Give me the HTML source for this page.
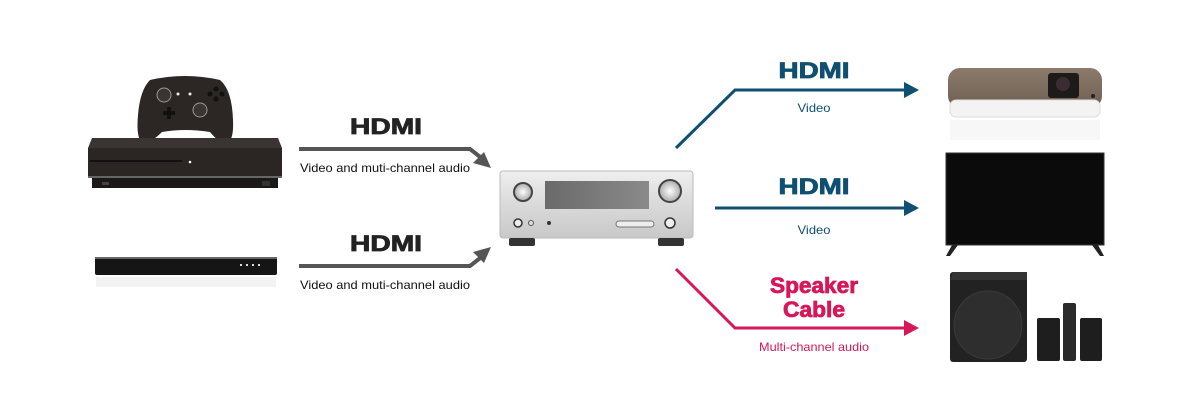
<!DOCTYPE html>
<html><head><meta charset="utf-8"><style>
html,body{margin:0;padding:0;background:#fff;}
svg{display:block;}
.h{font-family:"Liberation Sans",sans-serif;font-weight:bold;font-size:22px;stroke-width:0.8px;}
.s{font-family:"Liberation Sans",sans-serif;font-size:12px;}
</style></head><body>
<svg width="1201" height="400" viewBox="0 0 1201 400" xmlns="http://www.w3.org/2000/svg">
<defs>
<linearGradient id="silver" x1="0" y1="0" x2="0" y2="1"><stop offset="0" stop-color="#efefef"/><stop offset="0.5" stop-color="#dadada"/><stop offset="1" stop-color="#c8c8c8"/></linearGradient>
<linearGradient id="disp" x1="0" y1="0" x2="1" y2="0"><stop offset="0" stop-color="#6a6a6a"/><stop offset="1" stop-color="#8a8a8a"/></linearGradient>
<linearGradient id="brown" x1="0" y1="0" x2="0" y2="1"><stop offset="0" stop-color="#8c7b6c"/><stop offset="1" stop-color="#6e5f52"/></linearGradient>
<radialGradient id="knob"><stop offset="0" stop-color="#fff"/><stop offset="1" stop-color="#aaa"/></radialGradient>
</defs>

<path d="M150 80 Q185 72 220 80 Q232 90 233 120 Q234 140 227 143 Q220 144 210 132 Q185 128 162 132 Q150 144 142 142 Q136 138 138 115 Q140 90 150 80Z" fill="#2c2624"/>
<circle cx="164" cy="95" r="7" fill="#3a3432" stroke="#999" stroke-width="1"/>
<circle cx="200" cy="110" r="7" fill="#3a3432" stroke="#999" stroke-width="1"/>
<circle cx="178" cy="94" r="1.5" fill="#eee"/><circle cx="190" cy="94" r="1.5" fill="#eee"/>
<circle cx="210" cy="94" r="2.5" fill="#111"/><circle cx="216" cy="89" r="2.5" fill="#111"/><circle cx="222" cy="94" r="2.5" fill="#111"/><circle cx="216" cy="99" r="2.5" fill="#111"/>
<rect x="167" y="107" width="4" height="12" fill="#111"/><rect x="163" y="111" width="12" height="4" fill="#111"/>
<polygon points="92,138 278,138 282,148 88,148" fill="#3a3432"/>
<rect x="88" y="148" width="194" height="30" fill="#2b2523"/>
<rect x="90" y="160" width="92" height="2" fill="#111"/>
<circle cx="190" cy="162" r="1.3" fill="#fff"/>
<rect x="88" y="176" width="194" height="2" fill="#666"/>
<rect x="92" y="178" width="186" height="10" fill="#1c1817"/>
<rect x="102" y="182" width="7" height="3" fill="#444"/>
<rect x="262" y="181" width="8" height="5" fill="#333"/>
<rect x="95" y="257" width="182" height="18" rx="2" fill="#151515"/>
<rect x="95" y="257" width="182" height="2" fill="#666"/>
<rect x="240" y="264" width="2" height="2" fill="#ddd"/><rect x="246" y="264" width="2" height="2" fill="#ddd"/><rect x="252" y="264" width="2" height="2" fill="#ddd"/><rect x="258" y="264" width="2" height="2" fill="#ddd"/>
<rect x="96" y="277" width="180" height="10" fill="#eee" opacity="0.7"/>

<polyline points="299,149 470,149 484,160" fill="none" stroke="#555" stroke-width="4"/>
<polygon points="491,168 473,163 484,152" fill="#555"/>
<polyline points="299,266 470,266 484,255" fill="none" stroke="#555" stroke-width="4"/>
<polygon points="491,247 484,263 473,252" fill="#555"/>
<text x="386" y="134" text-anchor="middle" class="h" fill="#222" stroke="#222" textLength="72" lengthAdjust="spacingAndGlyphs">HDMI</text>
<text x="385" y="172" text-anchor="middle" class="s" fill="#111" textLength="170" lengthAdjust="spacingAndGlyphs">Video and muti-channel audio</text>
<text x="386" y="251" text-anchor="middle" class="h" fill="#222" stroke="#222" textLength="72" lengthAdjust="spacingAndGlyphs">HDMI</text>
<text x="385" y="289" text-anchor="middle" class="s" fill="#111" textLength="170" lengthAdjust="spacingAndGlyphs">Video and muti-channel audio</text>

<rect x="500" y="171" width="193" height="67" rx="3" fill="url(#silver)" stroke="#bbb"/>
<rect x="545" y="181" width="104" height="28" fill="url(#disp)"/>
<circle cx="523" cy="192" r="9" fill="url(#knob)" stroke="#444" stroke-width="2"/>
<circle cx="670" cy="191" r="11" fill="url(#knob)" stroke="#444" stroke-width="2"/>
<circle cx="518" cy="223" r="4" fill="#eee" stroke="#333" stroke-width="1.5"/>
<circle cx="531" cy="223" r="2.5" fill="#ddd" stroke="#555"/>
<circle cx="549" cy="223" r="2" fill="#333"/>
<rect x="616" y="221" width="38" height="6" rx="3" fill="#eee" stroke="#777"/>
<circle cx="670" cy="223" r="5" fill="#eee" stroke="#333" stroke-width="1.5"/>
<rect x="509" y="238" width="26" height="8" rx="2" fill="#333"/>
<rect x="658" y="238" width="26" height="8" rx="2" fill="#333"/>

<polyline points="676,148 735,90 906,90" fill="none" stroke="#0e4f72" stroke-width="3"/>
<polygon points="919,90 904,82 904,98" fill="#0e4f72"/>
<polyline points="715,208 906,208" fill="none" stroke="#0e4f72" stroke-width="3"/>
<polygon points="919,208 904,200 904,216" fill="#0e4f72"/>
<text x="814" y="78" text-anchor="middle" class="h" fill="#0e4f72" stroke="#0e4f72" textLength="71" lengthAdjust="spacingAndGlyphs">HDMI</text>
<text x="814" y="112" text-anchor="middle" class="s" fill="#0e4f72" textLength="33" lengthAdjust="spacingAndGlyphs">Video</text>
<text x="814" y="194" text-anchor="middle" class="h" fill="#0e4f72" stroke="#0e4f72" textLength="71" lengthAdjust="spacingAndGlyphs">HDMI</text>
<text x="814" y="234" text-anchor="middle" class="s" fill="#0e4f72" textLength="33" lengthAdjust="spacingAndGlyphs">Video</text>

<polyline points="676,269 735,328 906,328" fill="none" stroke="#d6185a" stroke-width="3"/>
<polygon points="919,328 904,320 904,336" fill="#d6185a"/>
<text x="814" y="293" text-anchor="middle" class="h" fill="#d6185a" stroke="#d6185a" textLength="88" lengthAdjust="spacingAndGlyphs">Speaker</text>
<text x="814" y="317" text-anchor="middle" class="h" fill="#d6185a" stroke="#d6185a" textLength="62" lengthAdjust="spacingAndGlyphs">Cable</text>
<text x="814" y="351" text-anchor="middle" class="s" fill="#d6185a" textLength="110" lengthAdjust="spacingAndGlyphs">Multi-channel audio</text>

<rect x="948" y="68" width="154" height="40" rx="12" fill="url(#brown)"/>
<rect x="950" y="100" width="150" height="17" rx="6" fill="#f3f3f3" stroke="#ddd"/>
<rect x="1048" y="73" width="31" height="25" rx="3" fill="#1d1b1a"/>
<circle cx="1063" cy="84" r="7" fill="#3b2c33"/>
<circle cx="1093" cy="96" r="2" fill="#222"/>
<rect x="950" y="120" width="150" height="20" fill="#f7f7f7"/>
<rect x="946" y="153" width="158" height="92" fill="#0b0b0b" stroke="#333"/>
<polygon points="952,245 958,245 950,256 946,256" fill="#222"/>
<polygon points="1092,245 1098,245 1104,256 1100,256" fill="#222"/>
<rect x="950" y="272" width="77" height="90" rx="3" fill="#222"/>
<polygon points="950,280 1027,280 1027,272 953,272" fill="#333"/>
<circle cx="988" cy="325" r="34" fill="#2e2e2e" stroke="#3a3a3a"/>
<rect x="1037" y="318" width="23" height="43" rx="2" fill="#1e1e1e"/>
<rect x="1063" y="303" width="13" height="58" rx="2" fill="#2a2a2a"/>
<rect x="1080" y="318" width="22" height="43" rx="2" fill="#1e1e1e"/>
</svg>
</body></html>
